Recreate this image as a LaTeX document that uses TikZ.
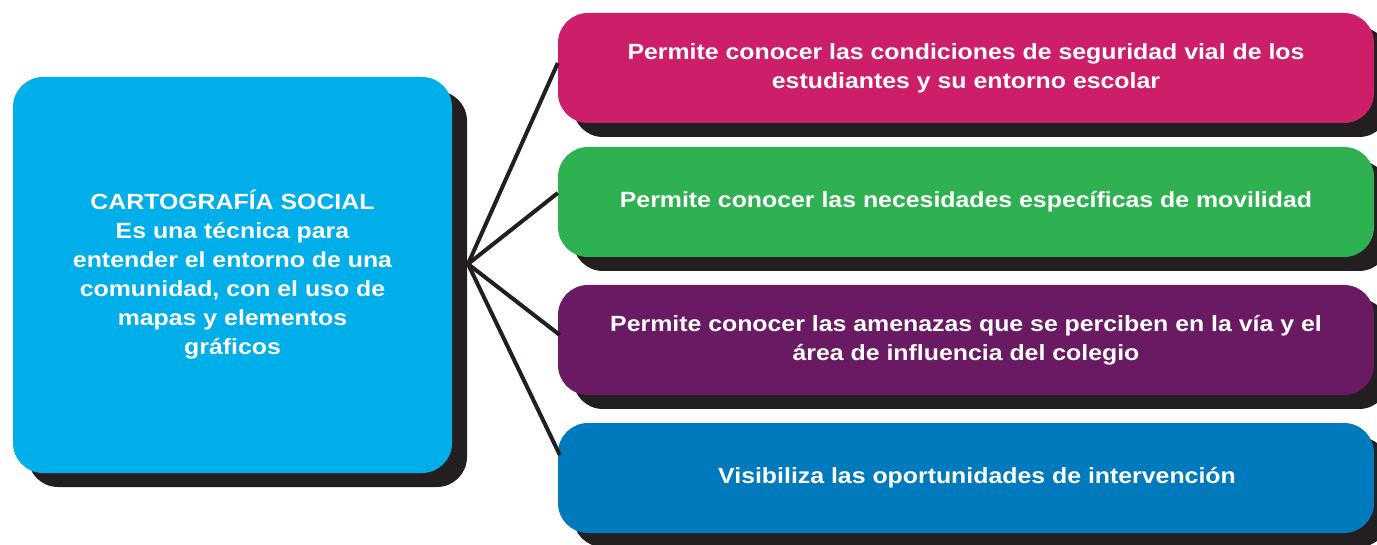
\documentclass[tikz,border=0pt]{standalone}
\usepackage{fontspec}
\setmainfont{Liberation Sans}[FakeStretch=1.13]
\usetikzlibrary{shadows}
\definecolor{cyanbox}{RGB}{0,174,234}
\definecolor{pinkbox}{RGB}{205,30,106}
\definecolor{greenbox}{RGB}{46,177,80}
\definecolor{purplebox}{RGB}{106,26,98}
\definecolor{bluebox}{RGB}{0,122,189}
\definecolor{shadowc}{RGB}{35,31,32}
\tikzset{
  card/.style={rectangle, rounded corners=30pt, inner sep=0pt, align=center,
    text=white, font=\bfseries\fontsize{22}{29}\selectfont,
    drop shadow={shadow xshift=15pt, shadow yshift=-14pt, fill=shadowc, opacity=1}},
  rightcard/.style={card, minimum width=816pt, minimum height=110pt},
  link/.style={draw=shadowc, line width=4pt}
}
\begin{document}
\begin{tikzpicture}[x=1pt,y=1pt]
\useasboundingbox (0,0) rectangle (1377,-545);
\clip (0,0) rectangle (1377,-545);
\node[card, fill=cyanbox, minimum width=439pt, minimum height=396pt] (main) at (232.5,-275)
  {CARTOGRAFÍA SOCIAL\\Es una técnica para\\entender el entorno de una\\comunidad, con el uso de\\mapas y elementos\\gráficos};
\node[rightcard, fill=pinkbox] (a) at (966,-68)
  {Permite conocer las condiciones de seguridad vial de los\\estudiantes y su entorno escolar};
\node[rightcard, fill=greenbox] (b) at (966,-202)
  {Permite conocer las necesidades específicas de movilidad};
\node[rightcard, fill=purplebox] (c) at (966,-340)
  {Permite conocer las amenazas que se perciben en la vía y el\\área de influencia del colegio};
\node[rightcard, fill=bluebox] (d) at (966,-478)
  {\hspace*{22pt}Visibiliza las oportunidades de intervención};
\coordinate (hub) at (468,-264);
\draw[link] (hub) -- ([yshift=5pt]a.west);
\draw[link] (hub) -- ([yshift=9pt]b.west);
\draw[link] (hub) -- ([xshift=2pt,yshift=5pt]c.west);
\draw[link] (hub) -- ([xshift=2pt,yshift=23pt]d.west);
\end{tikzpicture}
\end{document}
